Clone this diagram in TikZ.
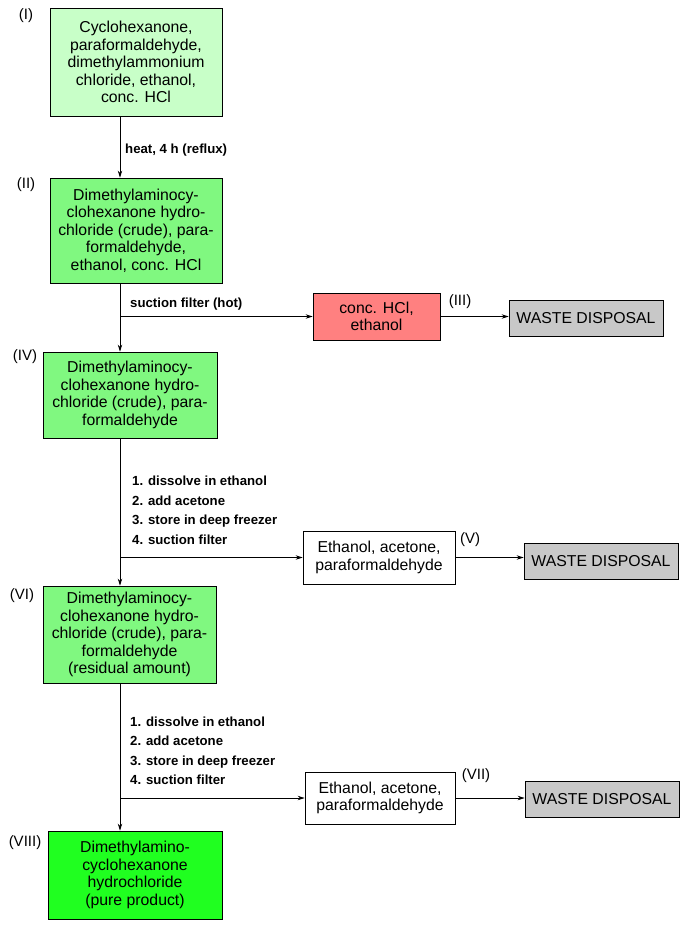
\documentclass[tikz,border=0pt]{standalone}
\usepackage{fontspec}
\setmainfont{Liberation Sans}
\usetikzlibrary{arrows.meta}
\definecolor{palegrn}{RGB}{200,255,200}
\definecolor{midgrn}{RGB}{128,248,128}
\definecolor{puregrn}{RGB}{32,255,32}
\definecolor{wastered}{RGB}{255,128,128}
\definecolor{wastegray}{RGB}{200,200,200}
\tikzset{
  box/.style={draw,thick,align=center,inner sep=0pt,font=\fontsize{15.8}{17.5}\selectfont},
  waste/.style={box,fill=wastegray,minimum width=154,minimum height=36},
  roman/.style={font=\fontsize{15}{17}\selectfont},
  cond/.style={anchor=west,align=left,inner sep=0pt,font=\bfseries\fontsize{13.2}{19.5}\selectfont},
  arr/.style={thick,-{Stealth[length=7pt,width=4.5pt]}}
}
\begin{document}
\begin{tikzpicture}[x=1pt,y=-1pt]
\useasboundingbox (0,0) rectangle (690,940);

% main column
\node[box,fill=palegrn,minimum width=172,minimum height=108] (i) at (136,62)
  {Cyclohexanone,\\paraformaldehyde,\\dimethylammonium\\chloride, ethanol,\\conc. HCl};
\node[box,fill=midgrn,minimum width=172,minimum height=105] (ii) at (136,230.5)
  {Dimethylaminocy-\\clohexanone hydro-\\chloride (crude), para-\\formaldehyde,\\ethanol, conc. HCl};
\node[box,fill=midgrn,minimum width=174,minimum height=86] (iv) at (130,395)
  {Dimethylaminocy-\\clohexanone hydro-\\chloride (crude), para-\\formaldehyde};
\node[box,fill=midgrn,minimum width=173,minimum height=97] (vi) at (129.5,634.5)
  {Dimethylaminocy-\\clohexanone hydro-\\chloride (crude), para-\\formaldehyde\\(residual amount)};
\node[box,fill=puregrn,minimum width=174,minimum height=88] (viii) at (135,875)
  {Dimethylamino-\\cyclohexanone\\hydrochloride\\(pure product)};

% side streams
\node[box,fill=wastered,minimum width=127,minimum height=47] (iii) at (376.5,316.5)
  {conc. HCl,\\ethanol};
\node[box,fill=white,minimum width=152,minimum height=53] (v) at (379,557.5)
  {Ethanol, acetone,\\paraformaldehyde};
\node[box,fill=white,minimum width=150,minimum height=52] (vii) at (380,798)
  {Ethanol, acetone,\\paraformaldehyde};
\node[waste] (w1) at (586,318) {WASTE DISPOSAL};
\node[waste] (w2) at (601,561) {WASTE DISPOSAL};
\node[waste] (w3) at (602,799.5) {WASTE DISPOSAL};

% labels
\node[roman] (li) at (26,16) {(I)};
\node[roman] (lii) at (26,185) {(II)};
\node[roman] (liii) at (460,302) {(III)};
\node[roman] (liv) at (25,357) {(IV)};
\node[roman] (lv) at (470,540) {(V)};
\node[roman] (lvi) at (22,596) {(VI)};
\node[roman] (lvii) at (476,776) {(VII)};
\node[roman] (lviii) at (25,843) {(VIII)};

% column line and branch points
\coordinate (c) at (120,0);
\coordinate (b1) at (120,316.5);
\coordinate (b2) at (120,557.5);
\coordinate (b3) at (120,798);

\draw[arr] (i.south -| c) -- (ii.north -| c);
\draw[arr] (ii.south -| c) -- (iv.north -| c);
\draw[arr] (iv.south -| c) -- (vi.north -| c);
\draw[arr] (vi.south -| c) -- (viii.north -| c);

\draw[arr] (b1) -- (iii);
\draw[arr] (b2) -- (v);
\draw[arr] (b3) -- (vii);

\draw[arr] (iii.east) -- (iii.east -| w1.west);
\draw[arr] (v.east) -- (v.east -| w2.west);
\draw[arr] (vii.east) -- (vii.east -| w3.west);

% conditions
\node[cond] (t1) at (125,150) {heat, 4 h (reflux)};
\node[cond] (t2) at (130,304) {suction filter (hot)};
\node[cond] (t3) at (132,510.5) {1. dissolve in ethanol\\2. add acetone\\3. store in deep freezer\\4. suction filter};
\node[cond] (t4) at (130,751) {1. dissolve in ethanol\\2. add acetone\\3. store in deep freezer\\4. suction filter};
\end{tikzpicture}
\end{document}
